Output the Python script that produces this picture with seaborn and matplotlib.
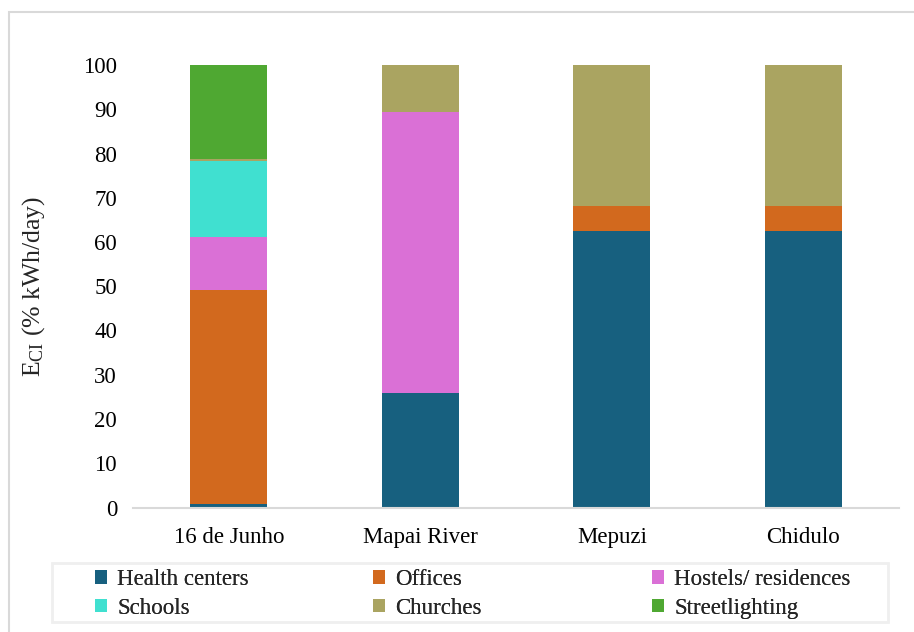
import matplotlib
matplotlib.use("Agg")
import matplotlib.pyplot as plt
from matplotlib.patches import Patch, Rectangle
import numpy as np
import pandas as pd
import seaborn as sns

# Share of daily community-institution energy demand per site (% kWh/day)
sites = ["16 de Junho", "Mapai River", "Mepuzi", "Chidulo"]
categories = ["Health centers", "Offices", "Hostels/ residences",
              "Schools", "Churches", "Streetlighting"]
health_centers = [0.9, 25.9, 62.4, 62.4]
offices = [48.3, 0.0, 5.7, 5.7]
hostels = [11.9, 63.4, 0.0, 0.0]
schools = [17.2, 0.0, 0.0, 0.0]
churches = [0.5, 10.7, 31.9, 31.9]
streetlighting = [21.2, 0.0, 0.0, 0.0]
yticks = list(range(0, 101, 10))

colors = ["#17607F", "#D2691E", "#DA70D6", "#40E0D0", "#AAA461", "#4FA832"]

sns.set_theme(style="white")
plt.rcParams["font.family"] = ["Liberation Serif", "DejaVu Serif"]
plt.rcParams["mathtext.default"] = "regular"

W, H = 914, 632
layers = [health_centers, offices, hostels, schools, churches, streetlighting]
cum = np.cumsum(np.array(layers, dtype=float), axis=0)

fig = plt.figure(figsize=(W / 100, H / 100), dpi=100)
fig.patch.set_facecolor("white")
# outer chart frame
fig.patches.append(Rectangle((9 / W, -0.05), 1.2, 1 - 12 / H + 0.05,
                             transform=fig.transFigure, fill=False,
                             edgecolor="#d9d9d9", linewidth=1.5))

ax = fig.add_axes([133 / W, 1 - 507.5 / H, (899 - 133) / W, (507.5 - 65) / H])

# stacked bars: draw cumulative tops from the top layer down
for i in range(len(layers) - 1, -1, -1):
    df = pd.DataFrame({"site": sites, "value": cum[i]})
    sns.barplot(data=df, x="site", y="value", color=colors[i], width=0.4,
                linewidth=0, saturation=1, ax=ax, order=sites)

ax.set_xlim(-0.5, len(sites) - 0.5)
ax.set_ylim(0, 100)
ax.set_yticks(yticks)
ax.set_yticklabels([str(t) for t in yticks])
ax.tick_params(axis="y", length=0, pad=11.5, labelsize=16.5, colors="black")
ax.tick_params(axis="x", length=0, pad=14, labelsize=16.5, colors="black")
ax.set_xlabel("")
ax.set_ylabel(r"$E_{CI}$ (% kWh/day)", fontsize=18.5)
ax.yaxis.set_label_coords(-0.112, 0.5)
for side in ["left", "right", "top"]:
    ax.spines[side].set_visible(False)
ax.spines["bottom"].set_color("#d9d9d9")
ax.spines["bottom"].set_linewidth(1.5)

# legend box
fig.patches.append(Rectangle((52 / W, 1 - 622 / H), (888 - 52) / W, (622 - 563) / H,
                             transform=fig.transFigure, fill=False,
                             edgecolor="#efefef", linewidth=2))
handles = [Patch(facecolor=c, edgecolor="none") for c in colors]
col_x = [95, 373, 652]
for j, x0 in enumerate(col_x):
    idx = [j, j + 3]
    leg = fig.legend([handles[k] for k in idx], [categories[k] for k in idx],
                     ncol=1, loc="center left",
                     bbox_to_anchor=(x0 / W, 1 - 594 / H),
                     frameon=False, fontsize=16.5, handlelength=0.52,
                     handleheight=0.52, handletextpad=0.45, labelspacing=0.33,
                     borderpad=0, borderaxespad=0)
    fig.add_artist(leg)

fig.savefig("out.png", dpi=100, facecolor="white")
